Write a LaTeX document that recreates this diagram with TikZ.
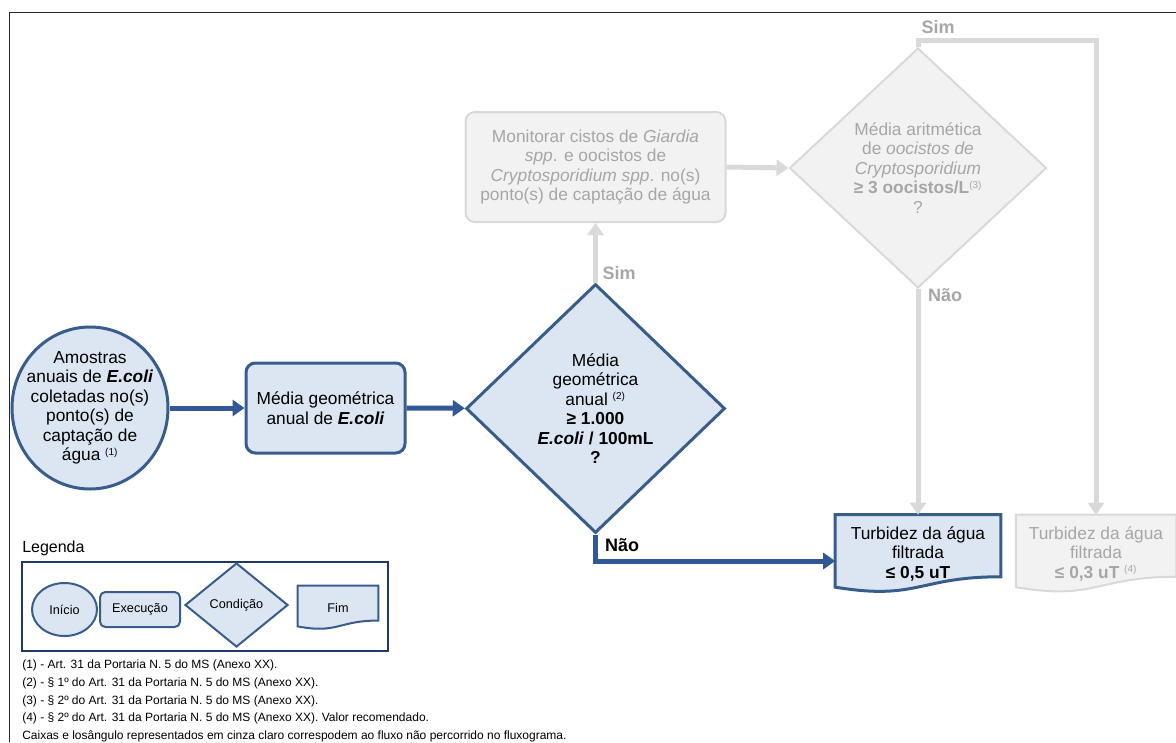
\documentclass[tikz,border=0pt]{standalone}
\usepackage{fontspec}
\setmainfont{Liberation Sans}
\usepackage{tikz}
\usetikzlibrary{shapes.geometric, arrows.meta, positioning, calc, backgrounds}
\definecolor{borderblue}{RGB}{56, 93, 138}
\definecolor{arrowblue}{RGB}{49, 87, 150}
\definecolor{lightblue}{RGB}{220, 230, 242}
\definecolor{legendnavy}{RGB}{31, 56, 100}
\definecolor{greyfill}{RGB}{242, 242, 242}
\definecolor{greyline}{RGB}{217, 217, 217}
\definecolor{greytext}{RGB}{166, 166, 166}
\newcommand{\mainsize}{\fontsize{13}{14.6}\selectfont}
\newcommand{\legsize}{\fontsize{9.5}{11}\selectfont}
\newcommand{\fnote}[1]{\textsuperscript{\fontsize{7.5}{8}\selectfont #1}}
% document (Fim) outline drawn from a node's anchors
\newcommand{\docpath}[1]{(#1.north west) -- (#1.north east) -- ($(#1.north east)!0.80!(#1.south east)$) .. controls ($(#1.north)!0.80!(#1.south)$) and ($(#1.north)!1.11!(#1.south)$) .. ($(#1.north west)!0.934!(#1.south west)$) -- cycle}

\begin{document}
\begin{tikzpicture}[x=0.75pt, y=-0.75pt,
    start/.style={ellipse, draw=borderblue, line width=2.25pt, fill=lightblue,
                  inner sep=0pt, align=center, font=\mainsize},
    exec/.style={rectangle, rounded corners=7pt, draw=borderblue, line width=2.25pt,
                 fill=lightblue, inner sep=0pt, align=center, font=\mainsize},
    cond/.style={diamond, draw=borderblue, line width=2.25pt, fill=lightblue,
                 inner sep=0pt, align=center, font=\mainsize},
    fimbox/.style={rectangle, inner sep=0pt, align=center, font=\mainsize},
    greyexec/.style={exec, draw=greyline, fill=greyfill, line width=1.5pt, text=greytext},
    greycond/.style={cond, draw=greyline, fill=greyfill, line width=1.5pt, text=greytext},
    flow/.style={draw=arrowblue, line width=3.75pt, -{Triangle[length=9pt,width=12pt]}},
    greyflow/.style={draw=greyline, line width=3.75pt, -{Triangle[length=9pt,width=12pt]}},
    yesno/.style={font=\fontsize{13.5}{16}\selectfont\bfseries},
    legtext/.style={font=\legsize}
]
\useasboundingbox (0,0) rectangle (1176,742);
\draw[line width=1.1pt, black!85] (9.5,742) -- (9.5,12.5) -- (1176,12.5);

%% main flow
\node[start, inner xsep=-7pt, inner ysep=-1pt, minimum width=117pt, minimum height=121.5pt] (amostras) at (90,408)
  {Amostras\\anuais de \textbf{\textit{E.coli}}\\coletadas no(s)\\ponto(s) de\\captação de\\água \fnote{(1)}};
\node[exec, minimum width=119.25pt, minimum height=67.5pt] (media) at (325.5,408)
  {Média geométrica\\anual de \textbf{\textit{E.coli}}};
\node[cond, minimum width=194.25pt, minimum height=186.75pt] (ecoli) at (595.5,408.5)
  {Média\\geométrica\\anual \fnote{(2)}\\\textbf{≥ 1.000}\\\textbf{\textit{E.coli} / 100mL}\\\textbf{?}};
\node[greyexec, minimum width=195pt, minimum height=82.5pt] (monitor) at (595.5,167)
  {Monitorar cistos de \textit{Giardia}\\\textit{spp}. e oocistos de\\\textit{Cryptosporidium spp}. no(s)\\ponto(s) de captação de água};
\node[greycond, minimum width=192.75pt, minimum height=180pt] (crypto) at (918,168)
  {Média aritmética\\de \textit{oocistos de}\\\textit{Cryptosporidium}\\\textbf{≥ 3 oocistos/L}\fnote{(3)}\\?};
\node[fimbox, minimum width=123.75pt, minimum height=57.75pt] (turbA) at (918,553.5)
  {Turbidez da água\\filtrada\\\textbf{≤ 0,5 uT}};
\node[fimbox, minimum width=120pt, minimum height=57.75pt, text=greytext] (turbB) at (1096,553.5)
  {Turbidez da água\\filtrada\\\textbf{≤ 0,3 uT} \fnote{(4)}};

\begin{scope}[on background layer]
\draw[draw=borderblue, line width=2.25pt, fill=lightblue] \docpath{turbA};
\draw[draw=greyline, line width=1.5pt, fill=greyfill] \docpath{turbB};
\end{scope}

\coordinate (simTop) at (918,41);
\coordinate (naoBend) at (595.5,561);

\draw[flow] (amostras) -- (media);
\draw[flow] (media) -- (ecoli);
\draw[greyflow] (ecoli.north) -- (monitor.south);
\draw[greyflow] (monitor.east) -- (crypto.west);
\draw[greyflow] (crypto.north) -- (simTop) -| (turbB.north);
\draw[greyflow] (crypto.south) -- (turbA.north);
\draw[flow] (ecoli.south) -- (naoBend) -- (naoBend -| turbA.west);

\node[yesno, text=greytext] (simA) at (619,273) {Sim};
\node[yesno, text=greytext] (simB) at (938,27) {Sim};
\node[yesno, text=greytext] (naoB) at (945,295) {Não};
\node[yesno] (naoA) at (622,545) {Não};

%% legend
\node[font=\fontsize{12}{14}\selectfont, anchor=west, inner sep=0pt] (legenda) at (22,548) {Legenda};
\node[draw=legendnavy, line width=1.5pt, minimum width=274.5pt, minimum height=66.75pt] (legbox) at (205,606.5) {};
\node[start, legtext, line width=1.5pt, minimum width=48.75pt, minimum height=39.75pt] (leginicio) at (64.5,609.5) {Início};
\node[exec, legtext, line width=1.5pt, rounded corners=4pt, minimum width=60pt, minimum height=26.25pt] (legexec) at (140,609.5) {Execução};
\node[cond, legtext, line width=1.5pt, minimum width=77.25pt, minimum height=63pt] (legcond) at (236.5,605) {Condição};
\node[fimbox, legtext, minimum width=60pt, minimum height=32.25pt] (legfim) at (338,607.5) {Fim};
\begin{scope}[on background layer]
\draw[draw=borderblue, line width=1.5pt, fill=lightblue] \docpath{legfim};
\end{scope}

%% notes
\node[anchor=north west, align=left, inner sep=0pt, font=\fontsize{9}{13.2}\selectfont] (notas) at (22,660)
  {(1) - Art. 31 da Portaria N. 5 do MS (Anexo XX).\\
   (2) - § 1º do Art. 31 da Portaria N. 5 do MS (Anexo XX).\\
   (3) - § 2º do Art. 31 da Portaria N. 5 do MS (Anexo XX).\\
   (4) - § 2º do Art. 31 da Portaria N. 5 do MS (Anexo XX). Valor recomendado.\\
   Caixas e losângulo representados em cinza claro correspodem ao fluxo não percorrido no fluxograma.};
\end{tikzpicture}
\end{document}
